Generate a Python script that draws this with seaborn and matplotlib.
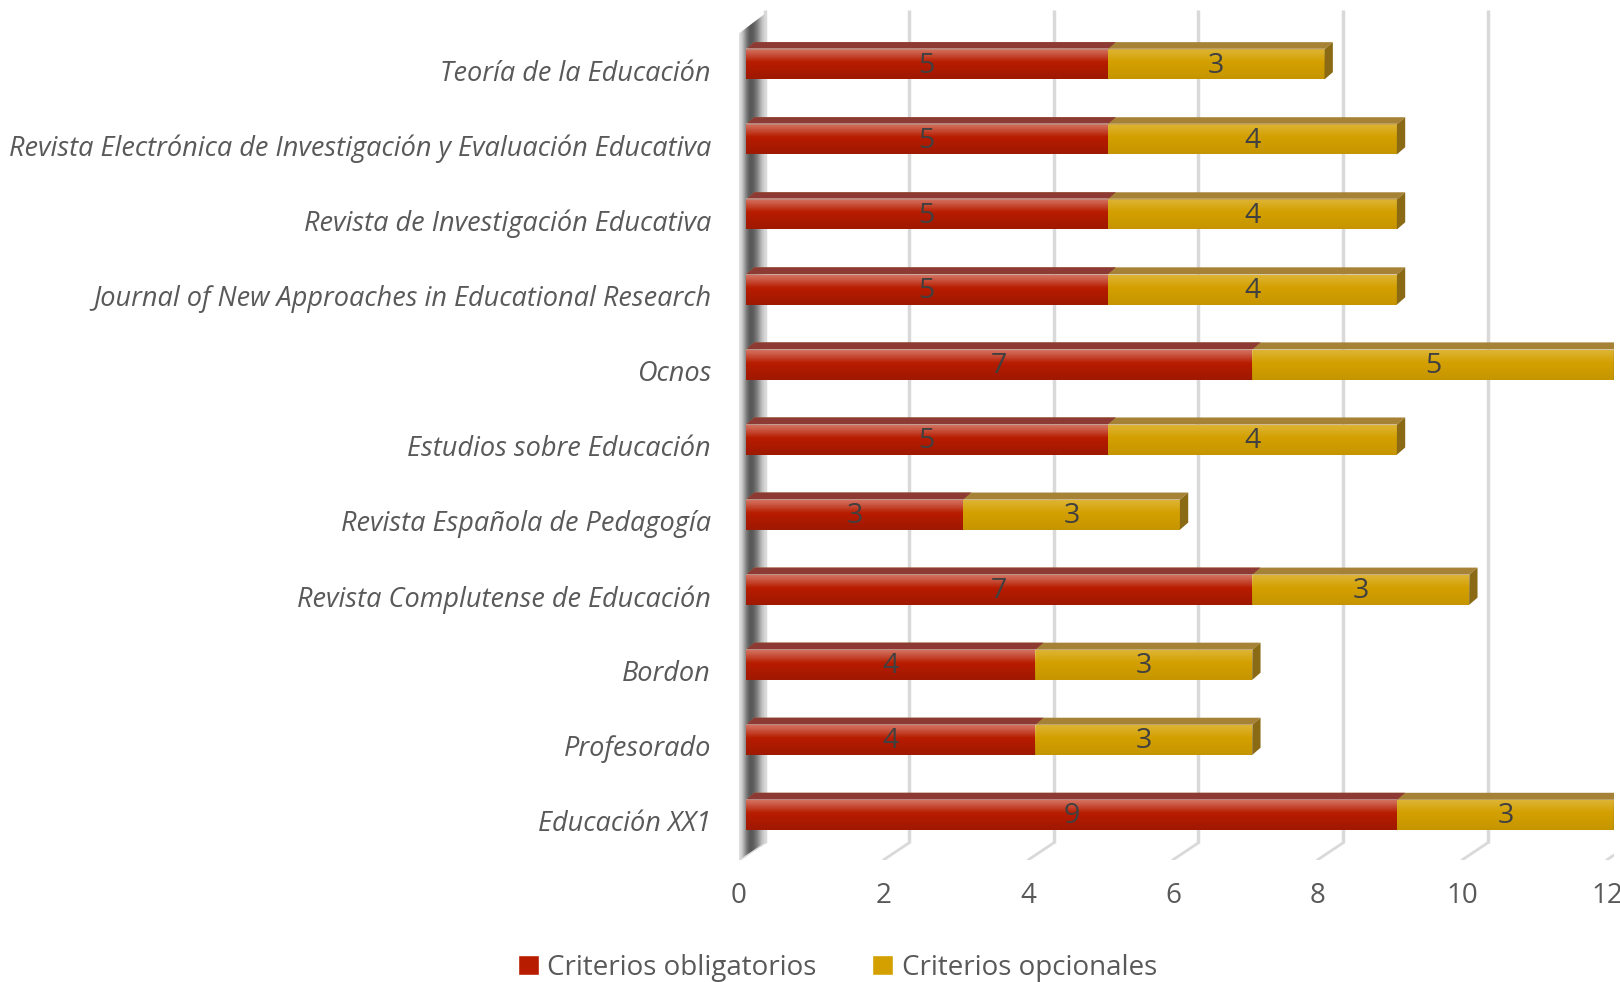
import numpy as np
import pandas as pd
import matplotlib
matplotlib.use("Agg")
import matplotlib.pyplot as plt
import matplotlib.transforms as mtransforms
from matplotlib.patches import Polygon, Patch
import seaborn as sns

categories = [
    "Teoría de la Educación",
    "Revista Electrónica de Investigación y Evaluación Educativa",
    "Revista de Investigación Educativa",
    "Journal of New Approaches in Educational Research",
    "Ocnos",
    "Estudios sobre Educación",
    "Revista Española de Pedagogía",
    "Revista Complutense de Educación",
    "Bordon",
    "Profesorado",
    "Educación XX1",
]
obligatorios = [5, 5, 5, 5, 7, 5, 3, 7, 4, 4, 9]
opcionales = [3, 4, 4, 4, 5, 4, 3, 3, 3, 3, 3]
xticks = [0, 2, 4, 6, 8, 10, 12]
series_names = ["Criterios obligatorios", "Criterios opcionales"]

RED = "#B81C00"
RED_TOP = "#8E3A34"
GOLD = "#D4A000"
GOLD_TOP = "#A68236"
GOLD_SIDE = "#8A6A14"
GRID = "#D9D9D9"
TXT = "#595959"

sns.set_theme(style="white")
plt.rcParams["font.family"] = ["Open Sans", "DejaVu Sans"]

df = pd.DataFrame({"cat": categories, "obl": obligatorios, "opc": opcionales})
df["total"] = df["obl"] + df["opc"]

fig = plt.figure(figsize=(16.2, 9.82), dpi=100)
ax = fig.add_axes([0.456, 0.1242, 0.5402, 0.8653])

BW = 0.40
sns.barplot(data=df, x="total", y="cat", orient="h", color=GOLD, saturation=1,
            width=BW, errorbar=None, zorder=3, ax=ax, linewidth=0)
sns.barplot(data=df, x="obl", y="cat", orient="h", color=RED, saturation=1,
            width=BW, errorbar=None, zorder=3, ax=ax, linewidth=0)

YTOP, YBOT = -0.72, 10.60
XMIN, XMAX = -0.1, 12
DX, DY = 0.115, 0.096     # bar depth offset
WX = 0.257                # back wall offset
YBACK = 10.37

# back-wall gridlines + floor lines
for t in xticks:
    ax.plot([t + WX, t + WX], [YTOP, YBACK], color=GRID, lw=2.5, zorder=0,
            solid_capstyle="butt")
    ax.plot([t + WX, t - 0.1], [YBACK, YBOT], color=GRID, lw=2.0, zorder=0)

# left wall with gradient
wall = Polygon([(XMIN, -0.41), (WX, YTOP + 0.05), (WX, YBACK), (XMIN, YBOT)],
               closed=True, facecolor="none", edgecolor="none", transform=ax.transData)
ax.add_patch(wall)
grad = np.array([[0.88, 0.55, 0.30, 0.38, 0.55, 0.82]])
im = ax.imshow(grad, cmap="gray", vmin=0, vmax=1, aspect="auto",
               extent=[XMIN, WX, YBOT, YTOP], zorder=1, interpolation="bicubic")
im.set_clip_path(wall)

# 3D faces + gradient overlays
patches = list(ax.patches)
bars = [p for p in patches if p is not wall]
n = len(categories)
gold_bars = bars[:n]
red_bars = bars[n:2 * n]

shade = np.zeros((20, 1, 4))
for k in range(20):
    f = k / 19.0
    if f < 0.45:
        shade[k, 0, :3] = 1.0
        shade[k, 0, 3] = 0.22 * (1 - f / 0.45)
    else:
        shade[k, 0, :3] = 0.0
        shade[k, 0, 3] = 0.07 * (f - 0.45) / 0.55

for group, topc in ((gold_bars, GOLD_TOP), (red_bars, RED_TOP)):
    for p in group:
        x0, w = p.get_x(), p.get_width()
        y0, h = p.get_y(), p.get_height()
        x1 = x0 + w
        ytop = min(y0, y0 + h)
        ybot = max(y0, y0 + h)
        top = Polygon([(x0, ytop), (x1, ytop), (x1 + DX, ytop - DY), (x0 + DX, ytop - DY)],
                      closed=True, facecolor=topc, edgecolor="none", zorder=3.5)
        ax.add_patch(top)
        if group is gold_bars:
            side = Polygon([(x1, ytop), (x1 + DX, ytop - DY), (x1 + DX, ybot - DY), (x1, ybot)],
                           closed=True, facecolor=GOLD_SIDE, edgecolor="none", zorder=3.5)
            ax.add_patch(side)
        ax.imshow(shade, aspect="auto", extent=[x0, x1, ybot, ytop], zorder=3.6,
                  interpolation="bilinear")

# value labels
for i, (a, b) in enumerate(zip(obligatorios, opcionales)):
    ax.text(a / 2, i + 0.02, str(a), ha="center", va="center", fontsize=20.5,
            color="#404040", zorder=5)
    ax.text(a + b / 2, i + 0.02, str(b), ha="center", va="center", fontsize=20.5,
            color="#404040", zorder=5)

ax.set_xlim(XMIN, XMAX)
ax.set_ylim(YBOT, YTOP)
ax.set_xticks(xticks)
ax.set_xticklabels([str(t) for t in xticks])
ax.set_xlabel("")
ax.set_ylabel("")
for s in ax.spines.values():
    s.set_visible(False)
ax.grid(False)
ax.tick_params(axis="x", length=0, pad=16, labelsize=20, labelcolor=TXT)
ax.tick_params(axis="y", length=0, pad=20, labelsize=19.5, labelcolor=TXT)
yoff = mtransforms.ScaledTranslation(0, -0.06, fig.dpi_scale_trans)
for lab in ax.get_yticklabels():
    lab.set_style("italic")
    lab.set_transform(lab.get_transform() + yoff)
off = mtransforms.ScaledTranslation(-0.07, 0, fig.dpi_scale_trans)
for lab in ax.get_xticklabels():
    lab.set_transform(lab.get_transform() + off)
    lab.set_clip_on(False)

handles = [Patch(facecolor=RED), Patch(facecolor=GOLD)]
fig.legend(handles=handles, labels=series_names, loc="lower center",
           bbox_to_anchor=(0.517, -0.025), ncol=2, frameon=False, fontsize=20,
           handlelength=0.75, handleheight=0.75, handletextpad=0.3,
           columnspacing=2.0, labelcolor=TXT)

fig.savefig("out.png", dpi=100)
